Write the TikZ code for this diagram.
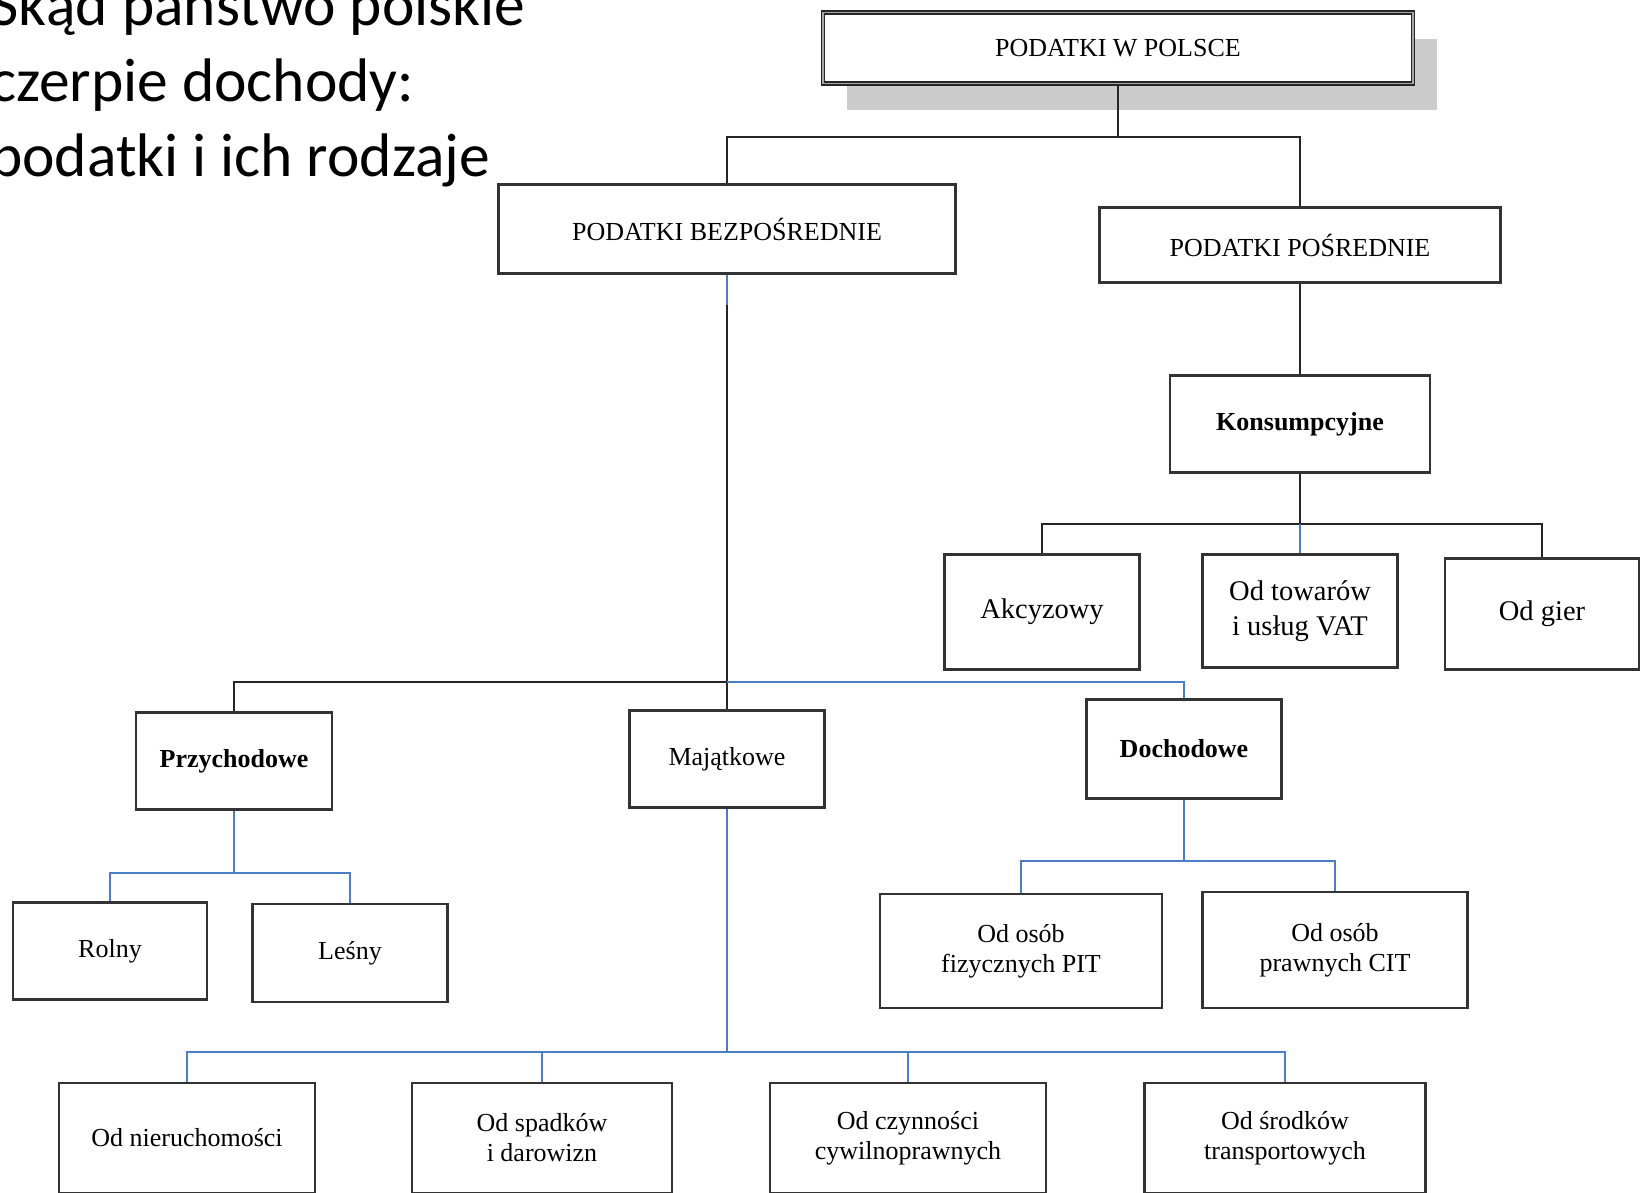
\documentclass[tikz,border=0pt]{standalone}
\usepackage{fontspec}
\setmainfont{Liberation Serif}
\newfontfamily\titlefont{Carlito}
\usepackage{tikz}
\usetikzlibrary{shadows}

\definecolor{linkblue}{HTML}{4A7EC7}
\definecolor{boxline}{HTML}{333333}

\tikzset{
  box/.style={draw=boxline,line width=2.5pt,fill=white,inner sep=0pt,align=center,
    font=\fontsize{26}{30}\selectfont},
  bigbox/.style={box,font=\fontsize{28.5}{34.5}\selectfont},
  rootbox/.style={box,draw=black!85,line width=1.3pt,double=gray!70,double distance=1.6pt,
    font=\fontsize{26}{30}\selectfont,
    drop shadow={shadow xshift=24pt,shadow yshift=-27pt,fill=black!20,opacity=1}},
  link/.style={draw=black!85,line width=2pt},
  bluelink/.style={draw=linkblue,line width=2pt},
  slidetitle/.style={anchor=base west,inner sep=0pt,font=\titlefont\fontsize{61.5}{75}\selectfont}
}

\begin{document}
\begin{tikzpicture}[x=1pt,y=-1pt]
  \useasboundingbox (0,0) rectangle (1641,1193);
  \clip (0,0) rectangle (1641,1193);

  \node[slidetitle] (title1) at (-10,26) {Skąd państwo polskie};
  \node[slidetitle] (title2) at (-10,102) {czerpie dochody:};
  \node[slidetitle] (title3) at (-10,177) {podatki i ich rodzaje};

  \node[rootbox,minimum width=590pt,minimum height=71pt] (root) at (1118,48) {PODATKI W POLSCE};

  \node[box,minimum width=457pt,minimum height=89pt] (bez) at (727,229) {PODATKI BEZPOŚREDNIE};
  \node[box,minimum width=401pt,minimum height=75pt] (pos) at (1300,245) {PODATKI POŚREDNIE};

  \node[box,minimum width=260pt,minimum height=97pt] (kons) at (1300,424) {\bfseries Konsumpcyjne};
  \node[bigbox,minimum width=195pt,minimum height=115pt] (akc) at (1042,612) {Akcyzowy};
  \node[bigbox,minimum width=195pt,minimum height=113pt] (vat) at (1300,611) {Od towarów\\i usług VAT};
  \node[bigbox,minimum width=194pt,minimum height=111pt] (gier) at (1542,614) {Od gier};

  \node[box,minimum width=196pt,minimum height=97pt] (przych) at (234,761) {\bfseries Przychodowe};
  \node[box,minimum width=195pt,minimum height=97pt] (maj) at (727,759) {Majątkowe};
  \node[box,minimum width=195pt,minimum height=99pt] (doch) at (1184,749) {\bfseries Dochodowe};

  \node[box,minimum width=194pt,minimum height=97pt] (rolny) at (110,951) {Rolny};
  \node[box,minimum width=195pt,minimum height=98pt] (lesny) at (350,953) {Leśny};

  \node[box,minimum width=282pt,minimum height=114pt] (pit) at (1021,951) {Od osób\\fizycznych PIT};
  \node[box,minimum width=265pt,minimum height=116pt] (cit) at (1335,950) {Od osób\\prawnych CIT};

  \node[box,minimum width=256pt,minimum height=110pt] (nier) at (187,1138) {Od nieruchomości};
  \node[box,minimum width=260pt,minimum height=110pt] (spad) at (542,1138) {Od spadków\\i darowizn};
  \node[box,minimum width=276pt,minimum height=110pt] (czyn) at (908,1138) {Od czynności\\cywilnoprawnych};
  \node[box,minimum width=281pt,minimum height=110pt] (srod) at (1285,1138) {Od środków\\transportowych};

  % bus points
  \coordinate (rootj) at (1118,137);
  \coordinate (konsj) at (1300,524);
  \coordinate (bezm) at (727,305);
  \coordinate (bezj) at (727,682);
  \coordinate (przj) at (234,873);
  \coordinate (dochj) at (1184,861);
  \coordinate (majj) at (727,1052);

  \draw[link] (root) -- (rootj) -| (bez.north);
  \draw[link] (rootj) -| (pos.north);
  \draw[link] (pos) -- (kons);

  \draw[link] (kons) -- (konsj) -| (akc.north);
  \draw[link] (konsj) -| (gier.north);
  \draw[bluelink] (konsj) -- (vat);

  \draw[bluelink] (bez) -- (bezm);
  \draw[link] (bezm) -- (bezj) -| (przych.north);
  \draw[link] (bezj) -- (maj);
  \draw[bluelink] (bezj) -| (doch.north);

  \draw[bluelink] (przych) -- (przj) -| (rolny.north);
  \draw[bluelink] (przj) -| (lesny.north);

  \draw[bluelink] (doch) -- (dochj) -| (pit.north);
  \draw[bluelink] (dochj) -| (cit.north);

  \draw[bluelink] (maj) -- (majj) -| (nier.north);
  \draw[bluelink] (majj) -| (spad.north);
  \draw[bluelink] (majj) -| (czyn.north);
  \draw[bluelink] (majj) -| (srod.north);
\end{tikzpicture}
\end{document}
